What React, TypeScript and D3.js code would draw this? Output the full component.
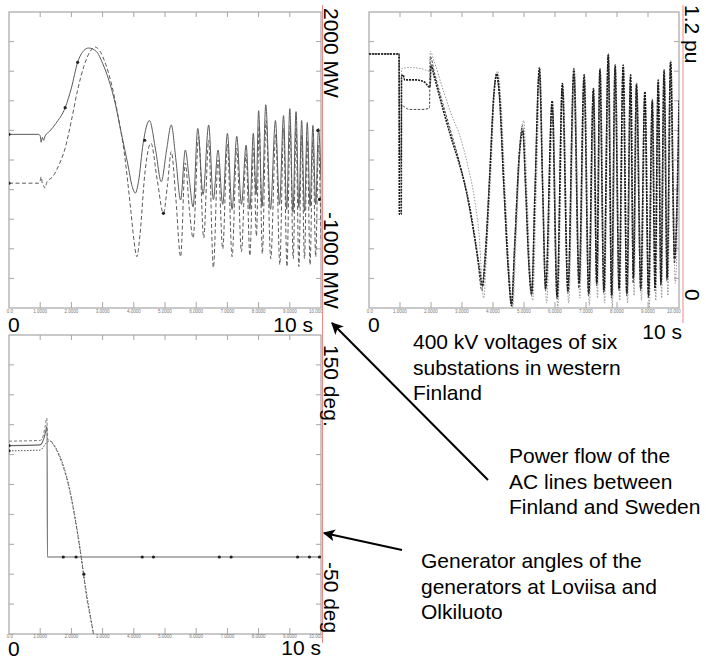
import React, { useRef, useEffect } from 'react';
import * as d3 from 'd3';

type Pt = [number, number];

// time axis (s) shared by all three panels
const timeDomain: [number, number] = [0, 10];
const timeTickLabels = ["0.0", "1.0000", "2.0000", "3.0000", "4.0000", "5.0000", "6.0000", "7.0000", "8.0000", "9.0000", "10.000"];

// --- power flow, MW ---
const flowDomain: [number, number] = [-1000, 2000];
const flowSolid: Pt[] = [
  [0, 760], [0.95, 760], [1.0, 745], [1.03, 680], [1.07, 730], [1.11, 700], [1.16, 745], [1.3, 790], [1.5, 870],
  [1.8, 1030], [2.0, 1230], [2.2, 1490], [2.4, 1610], [2.55, 1635], [2.8, 1600], [3.0, 1480], [3.2, 1310],
  [3.4, 1080], [3.6, 770], [3.8, 470], [3.95, 230], [4.05, 165], [4.15, 280], [4.3, 670], [4.5, 900],
  [4.7, 600], [4.88, 280], [5.05, 600], [5.2, 855], [5.35, 500], [5.5, 95], [5.65, 600], [5.78, 300],
  [5.9, 25], [6.05, 820], [6.22, 150], [6.4, 855], [6.55, 100], [6.7, 600], [6.85, 50], [7.0, 770],
  [7.15, 0], [7.3, 740], [7.45, 50], [7.6, 650], [7.72, 0], [7.83, 770], [7.92, 150], [8.0, 1000],
  [8.11, 30], [8.23, 1060], [8.38, 0], [8.54, 900], [8.67, 50], [8.8, 950], [8.9, 0], [9.0, 1020],
  [9.1, -30], [9.2, 990], [9.29, 20], [9.38, 900], [9.47, -20], [9.56, 880], [9.65, 30], [9.74, 850],
  [9.83, 50], [9.92, 820], [10, 300],
];
const flowDashed: Pt[] = [
  [0, 265], [0.95, 265], [1.0, 290], [1.03, 330], [1.07, 260], [1.11, 240], [1.15, 215], [1.22, 280],
  [1.4, 330], [1.6, 450], [1.8, 620], [2.0, 900], [2.2, 1210], [2.4, 1450], [2.6, 1600], [2.75, 1645],
  [2.9, 1610], [3.1, 1470], [3.3, 1250], [3.5, 940], [3.7, 560], [3.9, 0], [4.0, -300], [4.1, -480],
  [4.2, -250], [4.35, 350], [4.55, 670], [4.75, 300], [4.95, -40], [5.08, 250], [5.2, 585], [5.35, 100],
  [5.5, -480], [5.65, 470], [5.78, 0], [5.9, -290], [6.08, 735], [6.24, -290], [6.4, 700], [6.55, -590],
  [6.7, 500], [6.85, -400], [7.0, 660], [7.15, -480], [7.3, 620], [7.45, -430], [7.6, 560], [7.72, -470],
  [7.84, 620], [7.93, -270], [8.02, 850], [8.12, -450], [8.24, 900], [8.39, -500], [8.55, 760], [8.68, -560],
  [8.8, 820], [8.91, -580], [9.01, 850], [9.11, -500], [9.2, 820], [9.29, -580], [9.38, 750], [9.47, -500],
  [9.56, 700], [9.65, -560], [9.74, 700], [9.83, -480], [9.92, 650], [10, -300],
];
const flowMarkers: Pt[] = [[0, 760], [0, 265], [1.8, 1030], [2.2, 1490], [4.35, 700], [4.95, -40], [9.9, 800], [9.95, 100]];

// --- 400 kV voltages, pu ---
const voltDomain: [number, number] = [0, 1.2];
const voltMain: Pt[] = [
  [0, 1.03], [0.97, 1.03], [0.98, 0.38], [1.04, 0.38], [1.05, 0.94], [1.1, 0.945], [1.15, 0.925], [1.5, 0.925],
  [1.8, 0.915], [1.95, 0.895], [1.97, 0.9], [2.0, 0.985], [2.1, 0.94], [2.4, 0.8], [2.7, 0.67], [2.9, 0.59],
  [3.2, 0.44], [3.42, 0.28], [3.55, 0.17], [3.66, 0.09], [3.75, 0.2], [3.9, 0.55], [4.02, 0.85], [4.12, 0.95],
  [4.2, 0.88], [4.35, 0.5], [4.5, 0.15], [4.6, 0.01], [4.7, 0.25], [4.85, 0.62], [4.96, 0.72], [5.05, 0.5],
  [5.15, 0.2], [5.25, 0.06], [5.35, 0.45], [5.5, 0.975], [5.6, 0.5], [5.7, 0.08], [5.91, 0.84], [6.07, 0.04],
  [6.24, 0.91], [6.42, 0.07], [6.61, 0.97], [6.78, 0.1], [6.94, 0.945], [7.09, 0.06], [7.24, 0.89], [7.35, 0.1],
  [7.45, 0.97], [7.58, 0.07], [7.72, 1.03], [7.83, 0.05], [7.94, 0.985], [8.07, 0.08], [8.2, 0.985], [8.32, 0.06],
  [8.44, 0.945], [8.53, 0.12], [8.63, 0.91], [8.77, 0.08], [8.9, 0.877], [9.02, 0.05], [9.14, 0.843], [9.23, 0.08],
  [9.33, 0.924], [9.42, 0.1], [9.52, 0.965], [9.62, 0.12], [9.73, 1.0], [9.86, 0.2], [10, 0.84],
];
const voltUpper: Pt[] = [
  [0, 1.03], [0.97, 1.03], [0.98, 0.55], [1.04, 0.6], [1.05, 0.97], [1.3, 0.975], [1.7, 0.97], [1.95, 0.96],
  [1.98, 1.04], [2.1, 1.0], [2.4, 0.88], [2.7, 0.77], [2.9, 0.71], [3.2, 0.57], [3.42, 0.43], [3.55, 0.3],
  [3.7, 0.04], [3.8, 0.25], [3.95, 0.6], [4.05, 0.88], [4.15, 0.96], [4.25, 0.85], [4.4, 0.45], [4.55, 0.1],
  [4.63, 0.0], [4.75, 0.3], [4.9, 0.7], [4.99, 0.76], [5.1, 0.45], [5.2, 0.15], [5.28, 0.03], [5.4, 0.5],
  [5.52, 0.94], [5.62, 0.45], [5.73, 0.02], [5.93, 0.8], [6.09, 0.0], [6.26, 0.88], [6.44, 0.02], [6.63, 0.94],
  [6.8, 0.04], [6.96, 0.92], [7.11, 0.01], [7.26, 0.86], [7.37, 0.04], [7.47, 0.95], [7.6, 0.02], [7.74, 1.0],
  [7.85, 0.0], [7.96, 0.95], [8.09, 0.03], [8.22, 0.96], [8.34, 0.02], [8.46, 0.9], [8.55, 0.05], [8.65, 0.88],
  [8.79, 0.03], [8.92, 0.84], [9.04, 0.0], [9.16, 0.8], [9.25, 0.03], [9.35, 0.88], [9.44, 0.04], [9.54, 0.92],
  [9.64, 0.05], [9.75, 0.96], [9.88, 0.1], [10, 0.7],
];
const voltLower: Pt[] = [
  [0, 1.03], [0.97, 1.03], [0.98, 0.6], [1.04, 0.62], [1.05, 0.82], [1.3, 0.805], [1.7, 0.805], [1.95, 0.81],
  [1.98, 1.02], [2.1, 0.96], [2.4, 0.82], [2.7, 0.69], [3.0, 0.55], [3.3, 0.36], [3.5, 0.2], [3.64, 0.07],
  [3.74, 0.22], [3.9, 0.56], [4.02, 0.86], [4.11, 0.94], [4.2, 0.86], [4.35, 0.48], [4.5, 0.13], [4.59, 0.02],
  [4.7, 0.27], [4.85, 0.64], [4.95, 0.74], [5.05, 0.48], [5.15, 0.18], [5.24, 0.05], [5.35, 0.47], [5.49, 0.96],
  [5.6, 0.48], [5.69, 0.07], [5.9, 0.82], [6.06, 0.05], [6.23, 0.9], [6.41, 0.06], [6.6, 0.95], [6.77, 0.08],
  [6.93, 0.93], [7.08, 0.05], [7.23, 0.88], [7.34, 0.09], [7.44, 0.96], [7.57, 0.06], [7.71, 1.02], [7.82, 0.04],
  [7.93, 0.97], [8.06, 0.07], [8.19, 0.97], [8.31, 0.05], [8.43, 0.93], [8.52, 0.1], [8.62, 0.9], [8.76, 0.07],
  [8.89, 0.86], [9.01, 0.04], [9.13, 0.83], [9.22, 0.07], [9.32, 0.91], [9.41, 0.09], [9.51, 0.95], [9.61, 0.11],
  [9.72, 0.99], [9.85, 0.18], [10, 0.8],
];

// --- generator angles, deg ---
const angleDomain: [number, number] = [-50, 150];
const angleSolid: Pt[] = [
  [0, 76], [1.0, 76.5], [1.05, 77.5], [1.12, 81], [1.17, 85], [1.22, 89], [1.23, 1.5], [10, 1.5],
];
const angleUpper: Pt[] = [
  [0, 79], [1.0, 79.5], [1.1, 83], [1.16, 89], [1.21, 94.5], [1.24, 80], [1.32, 79.5], [1.5, 74], [1.7, 64],
  [1.9, 50], [2.1, 29], [2.3, 3], [2.5, -27], [2.7, -49], [2.85, -68],
];
const angleLower: Pt[] = [
  [0, 72.5], [1.0, 73], [1.1, 75], [1.2, 78], [1.3, 79], [1.45, 76], [1.65, 68], [1.85, 55], [2.05, 36],
  [2.25, 11], [2.45, -18], [2.65, -43], [2.8, -62],
];
const angleMarkers: Pt[] = [[0, 76], [0, 72.5], [1.74, 1.5], [2.15, 1.5], [4.27, 1.5], [4.63, 1.5], [6.74, 1.5], [7.12, 1.5], [9.25, 1.5], [9.63, 1.5], [9.95, 1.5], [2.4, -10]];

const font = "'Liberation Sans', Arial, sans-serif";

const App = () => {
  const svgRef = useRef<SVGSVGElement>(null);

  useEffect(() => {
    const svg = d3.select(svgRef.current);
    svg.selectAll("*").remove();

    const panels = [
      {
        id: "flow", left: 9, right: 321, top: 12, bottom: 308, labelGap: 5, yDomain: flowDomain,
        series: [
          { data: flowSolid, color: "#5a5a5a", width: 1, dash: null },
          { data: flowDashed, color: "#5a5a5a", width: 1, dash: "4 2.5" },
        ],
        markers: flowMarkers,
      },
      {
        id: "volt", left: 369, right: 679, top: 12, bottom: 308, labelGap: 5, yDomain: voltDomain,
        series: [
          { data: voltUpper, color: "#999", width: 1, dash: "1.5 1.5" },
          { data: voltLower, color: "#444", width: 1, dash: "2.5 1.5" },
          { data: voltMain, color: "#1a1a1a", width: 1.6, dash: "2 1" },
        ],
        markers: [] as Pt[],
      },
      {
        id: "angle", left: 9, right: 321, top: 335, bottom: 634, labelGap: 3.5, yDomain: angleDomain,
        series: [
          { data: angleSolid, color: "#666", width: 1.1, dash: null },
          { data: angleUpper, color: "#777", width: 1, dash: "3 2" },
          { data: angleLower, color: "#555", width: 1, dash: "1.5 1.5" },
        ],
        markers: angleMarkers,
      },
    ];

    const defs = svg.append("defs");
    defs.append("marker")
      .attr("id", "arrowhead")
      .attr("viewBox", "0 0 10 10")
      .attr("refX", 9).attr("refY", 5)
      .attr("markerWidth", 6).attr("markerHeight", 6)
      .attr("markerUnits", "strokeWidth")
      .attr("orient", "auto")
      .append("path").attr("d", "M0,0 L10,5 L0,10 L2.5,5 Z").attr("fill", "#000");

    panels.forEach(p => {
      const x = d3.scaleLinear().domain(timeDomain).range([p.left, p.right]);
      const y = d3.scaleLinear().domain(p.yDomain).range([p.bottom, p.top]);
      const g = svg.append("g");

      defs.append("clipPath").attr("id", `clip-${p.id}`)
        .append("rect")
        .attr("x", p.left).attr("y", p.top)
        .attr("width", p.right - p.left).attr("height", p.bottom - p.top);

      // frame
      g.append("rect")
        .attr("x", p.left).attr("y", p.top)
        .attr("width", p.right - p.left).attr("height", p.bottom - p.top)
        .attr("fill", "none").attr("stroke", "#a6a6a6").attr("stroke-width", 1.2);

      // inner ticks on all four sides, 10 divisions each way
      const fr = d3.range(1, 10).map(i => i / 10);
      const tickColor = "#a6a6a6";
      fr.forEach(f => {
        const tx = p.left + f * (p.right - p.left);
        const ty = p.bottom - f * (p.bottom - p.top);
        g.append("line").attr("x1", tx).attr("x2", tx).attr("y1", p.top).attr("y2", p.top + 5)
          .attr("stroke", tickColor);
        g.append("line").attr("x1", tx).attr("x2", tx).attr("y1", p.bottom).attr("y2", p.bottom - 6)
          .attr("stroke", tickColor);
        g.append("line").attr("x1", p.left).attr("x2", p.left + 5).attr("y1", ty).attr("y2", ty)
          .attr("stroke", tickColor);
        g.append("line").attr("x1", p.right).attr("x2", p.right - 5).attr("y1", ty).attr("y2", ty)
          .attr("stroke", tickColor);
      });

      // tiny time tick labels
      g.selectAll(".tl")
        .data(timeTickLabels)
        .join("text")
        .attr("x", (d, i) => x(i) + (i === 0 ? 1 : i === 10 ? -5 : 0))
        .attr("y", p.bottom + p.labelGap)
        .attr("text-anchor", "middle")
        .style("font-family", font)
        .style("font-size", "4.5px")
        .style("fill", "#777")
        .text(d => d);

      const line = d3.line<Pt>()
        .x(d => x(d[0]))
        .y(d => y(d[1]))
        .curve(d3.curveMonotoneX);

      const plot = g.append("g").attr("clip-path", `url(#clip-${p.id})`);
      p.series.forEach(s => {
        plot.append("path")
          .attr("d", line(s.data))
          .attr("fill", "none")
          .attr("stroke", s.color)
          .attr("stroke-width", s.width)
          .attr("stroke-dasharray", s.dash)
          .attr("stroke-linejoin", "round");
      });
      plot.selectAll("circle")
        .data(p.markers)
        .join("circle")
        .attr("cx", d => x(d[0]))
        .attr("cy", d => y(d[1]))
        .attr("r", 1.6)
        .attr("fill", "#222");
    });

    // red vertical separators
    svg.append("line").attr("x1", 322.5).attr("x2", 322.5).attr("y1", 5).attr("y2", 643)
      .attr("stroke", "#f08a8a").attr("stroke-width", 1);
    svg.append("line").attr("x1", 683).attr("x2", 683).attr("y1", 5).attr("y2", 323)
      .attr("stroke", "#f08a8a").attr("stroke-width", 1);

    const text = (tx: number, ty: number, s: string, anchor = "start") =>
      svg.append("text")
        .attr("x", tx).attr("y", ty)
        .attr("text-anchor", anchor)
        .style("font-family", font)
        .style("font-size", "21px")
        .style("fill", "#000")
        .text(s);

    const vtext = (tx: number, ty: number, s: string) =>
      svg.append("text")
        .attr("transform", `translate(${tx},${ty}) rotate(90)`)
        .style("font-family", font)
        .style("font-size", "21px")
        .style("fill", "#000")
        .text(s);

    // axis end labels
    text(8, 332, "0");
    text(313, 332, "10 s", "end");
    text(368, 332, "0");
    text(682, 339, "10 s", "end");
    text(8, 655.5, "0");
    text(321, 655, "10 s", "end");

    vtext(324, 8, "2000 MW");
    vtext(324, 212, "-1000 MW");
    vtext(685, 5, "1.2 pu");
    vtext(685, 289, "0");
    vtext(324, 345, "150 deg.");
    vtext(324, 562, "-50 deg");

    // annotations
    const voltNote = ["400 kV voltages of six", "substations in western", "Finland"];
    const flowNote = ["Power flow of the", "AC lines between", "Finland and Sweden"];
    const angleNote = ["Generator angles of the", "generators at Loviisa and", "Olkiluoto"];
    voltNote.forEach((s, i) => text(413, 349 + i * 25.7, s));
    flowNote.forEach((s, i) => text(509, 463 + i * 25.7, s));
    angleNote.forEach((s, i) => text(421, 568 + i * 25.7, s));

    svg.append("line")
      .attr("x1", 488).attr("y1", 480).attr("x2", 332).attr("y2", 323)
      .attr("stroke", "#000").attr("stroke-width", 2)
      .attr("marker-end", "url(#arrowhead)");
    svg.append("line")
      .attr("x1", 402).attr("y1", 550).attr("x2", 324).attr("y2", 533)
      .attr("stroke", "#000").attr("stroke-width", 2)
      .attr("marker-end", "url(#arrowhead)");
  }, []);

  return (
    <svg ref={svgRef} width={706} height={658}
      style={{ position: "absolute", left: 0, top: 0, background: "#fff" }} />
  );
};

export default App;
